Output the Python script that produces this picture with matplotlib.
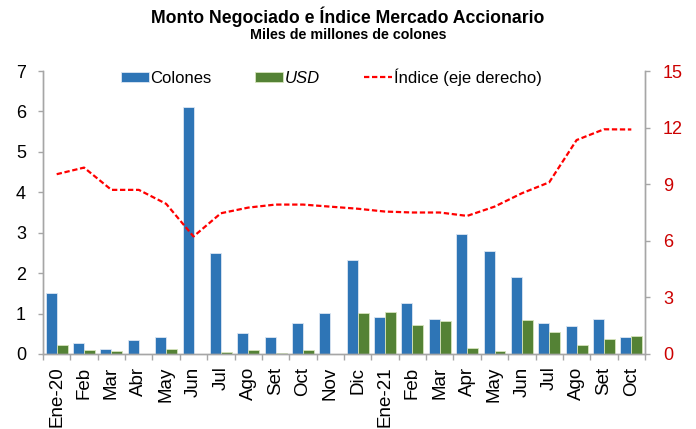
import matplotlib
matplotlib.use("Agg")
import matplotlib.pyplot as plt
import numpy as np

plt.rcParams['font.family'] = ['Liberation Sans', 'DejaVu Sans']

meses = ["Ene-20", "Feb", "Mar", "Abr", "May", "Jun", "Jul", "Ago", "Set", "Oct", "Nov",
         "Dic", "Ene-21", "Feb", "Mar", "Apr", "May", "Jun", "Jul", "Ago", "Set", "Oct"]
colones = [1.52, 0.27, 0.13, 0.35, 0.42, 6.10, 2.51, 0.52, 0.43, 0.77, 1.02,
           2.32, 0.91, 1.27, 0.87, 2.97, 2.56, 1.91, 0.76, 0.70, 0.87, 0.42]
usd = [0.23, 0.10, 0.08, 0.0, 0.13, 0.0, 0.05, 0.10, 0.02, 0.10, 0.0,
       1.01, 1.04, 0.71, 0.82, 0.16, 0.07, 0.84, 0.54, 0.23, 0.36, 0.45]
indice = [9.53, 9.88, 8.70, 8.70, 7.96, 6.23, 7.46, 7.76, 7.92, 7.92, 7.81,
          7.70, 7.55, 7.50, 7.50, 7.32, 7.81, 8.52, 9.10, 11.34, 11.91, 11.90]

azul = "#2E75B6"
verde = "#548235"
rojo = "#FF0000"
gris = "#A6A6A6"

fig = plt.figure(figsize=(6.96, 4.29), dpi=100)
ax = fig.add_axes([43/696, 1-354/429, (645-43)/696, (354-71)/429])
ax2 = ax.twinx()

x = np.arange(len(meses))
w = 0.4
b1 = ax.bar(x - w/2, colones, w, color=azul, edgecolor="#DCE6F2", linewidth=0.6, label="Colones", zorder=2)
b2 = ax.bar(x + w/2, usd, w, color=verde, edgecolor="#D7E4BD", linewidth=0.6, label="USD", zorder=2)
l1, = ax2.plot(x, indice, color=rojo, linestyle=(0, (2.4, 1.2)), linewidth=1.6, label="Índice (eje derecho)")

ax.set_xlim(-0.5, len(meses) - 0.5)
ax.set_ylim(0, 7)
ax2.set_ylim(0, 15)
ax.set_yticks(range(0, 8))
ax2.set_yticks(range(0, 16, 3))

for a in (ax, ax2):
    a.spines['top'].set_visible(False)
    for s in ('left', 'right', 'bottom'):
        a.spines[s].set_color(gris)
        a.spines[s].set_linewidth(1.0)

ax.tick_params(axis='y', colors=gris, labelcolor='black', labelsize=13, length=3.6, width=1, direction='out', pad=8.6)
ax2.tick_params(axis='y', colors=gris, labelcolor='#CC0000', labelsize=13, length=3.6, width=1, direction='out', pad=9.4)

ax.set_xticks(x)
ax.set_xticklabels(meses, rotation=90, fontsize=13.5)
ax.set_xticks(np.arange(-0.5, len(meses), 1), minor=True)
ax.tick_params(axis='x', which='major', length=0, pad=9)
ax.tick_params(axis='x', which='minor', length=4.3, color=gris, width=1)

fig.text(0.5, 1-17/429, "Monto Negociado e Índice Mercado Accionario", ha='center', va='center',
         fontsize=12.7, fontweight='bold')
fig.text(0.5, 1-35/429, "Miles de millones de colones", ha='center', va='center',
         fontsize=10.3, fontweight='bold')

leg = fig.legend(handles=[b1, b2, l1], loc='center', bbox_to_anchor=(331/696, 1-77/429),
                 ncol=3, frameon=False, fontsize=12, handlelength=1.7, handleheight=0.6,
                 handletextpad=0.1, columnspacing=2.6)
leg.get_texts()[1].set_fontstyle('italic')

fig.savefig("out.png", dpi=100)
